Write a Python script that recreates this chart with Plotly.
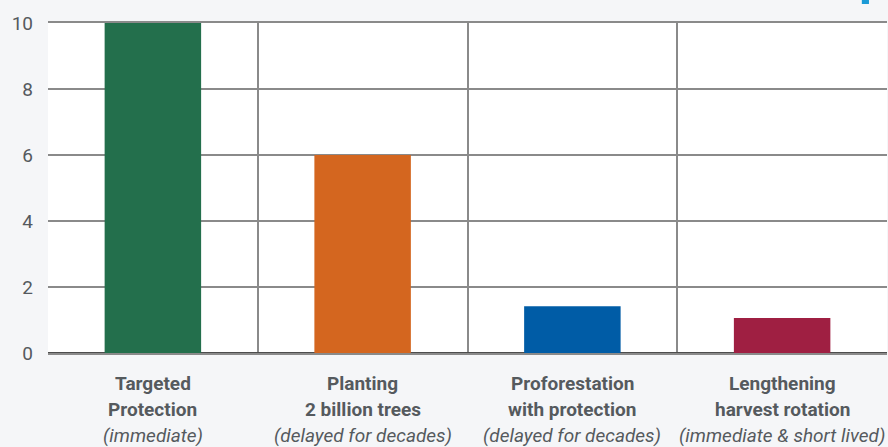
import plotly.graph_objects as go

# Strategy names, sub-lines and timing notes
categories = ["Targeted Protection", "Planting 2 billion trees",
              "Proforestation with protection", "Lengthening harvest rotation"]
label_line1 = ["Targeted", "Planting", "Proforestation", "Lengthening"]
label_line2 = ["Protection", "2 billion trees", "with protection", "harvest rotation"]
label_line3 = ["(immediate)", "(delayed for decades)", "(delayed for decades)",
               "(immediate & short lived)"]
values = [10, 6, 1.42, 1.06]
colors = ["#236f4c", "#d4661f", "#005ca6", "#9f1f42"]
y_ticks = [0, 2, 4, 6, 8, 10]

fig = go.Figure()
fig.add_trace(go.Bar(
    x=categories, y=values,
    marker=dict(color=colors, line=dict(width=0)),
    width=0.46,
    hoverinfo="x+y",
))

# Multi-line category labels below the axis
for cat, l1, l2, l3 in zip(categories, label_line1, label_line2, label_line3):
    for i, (txt, style) in enumerate([(l1, "b"), (l2, "b"), (l3, "i")]):
        fig.add_annotation(
            x=cat, xref="x", y=0, yref="paper", yanchor="middle",
            yshift=-30 - 26 * i, showarrow=False,
            text=f"<{style}>{txt}</{style}>",
            font=dict(family="Roboto", size=19, color="#555a5e"),
        )

# small brand mark in the top right corner
fig.add_shape(type="rect", xref="paper", yref="paper",
              x0=0.970, x1=0.9785, y0=1.0576, y1=1.072,
              fillcolor="#1a9ad6", line=dict(width=0), layer="above")

fig.update_layout(
    width=888, height=447,
    margin=dict(l=48, r=1, t=23, b=94),
    paper_bgcolor="#f5f6f8",
    plot_bgcolor="#ffffff",
    showlegend=False,
    xaxis=dict(
        type="category", range=[-0.5, 3.5],
        showticklabels=False, ticks="",
        showgrid=True, gridcolor="#8a8a8a", gridwidth=1.5,
        tickson="boundaries",
        showline=True, linecolor="#8a8a8a", linewidth=1.5, mirror=True,
    ),
    yaxis=dict(
        range=[0, 10], tickvals=y_ticks,
        showgrid=True, gridcolor="#8a8a8a", gridwidth=1.5,
        zeroline=True, zerolinecolor="#4d4d4d", zerolinewidth=3,
        showline=False, ticks="", ticklabelstandoff=14,
        tickfont=dict(family="Roboto", size=19, color="#555a5e"),
    ),
)

fig.write_html("out.html")
